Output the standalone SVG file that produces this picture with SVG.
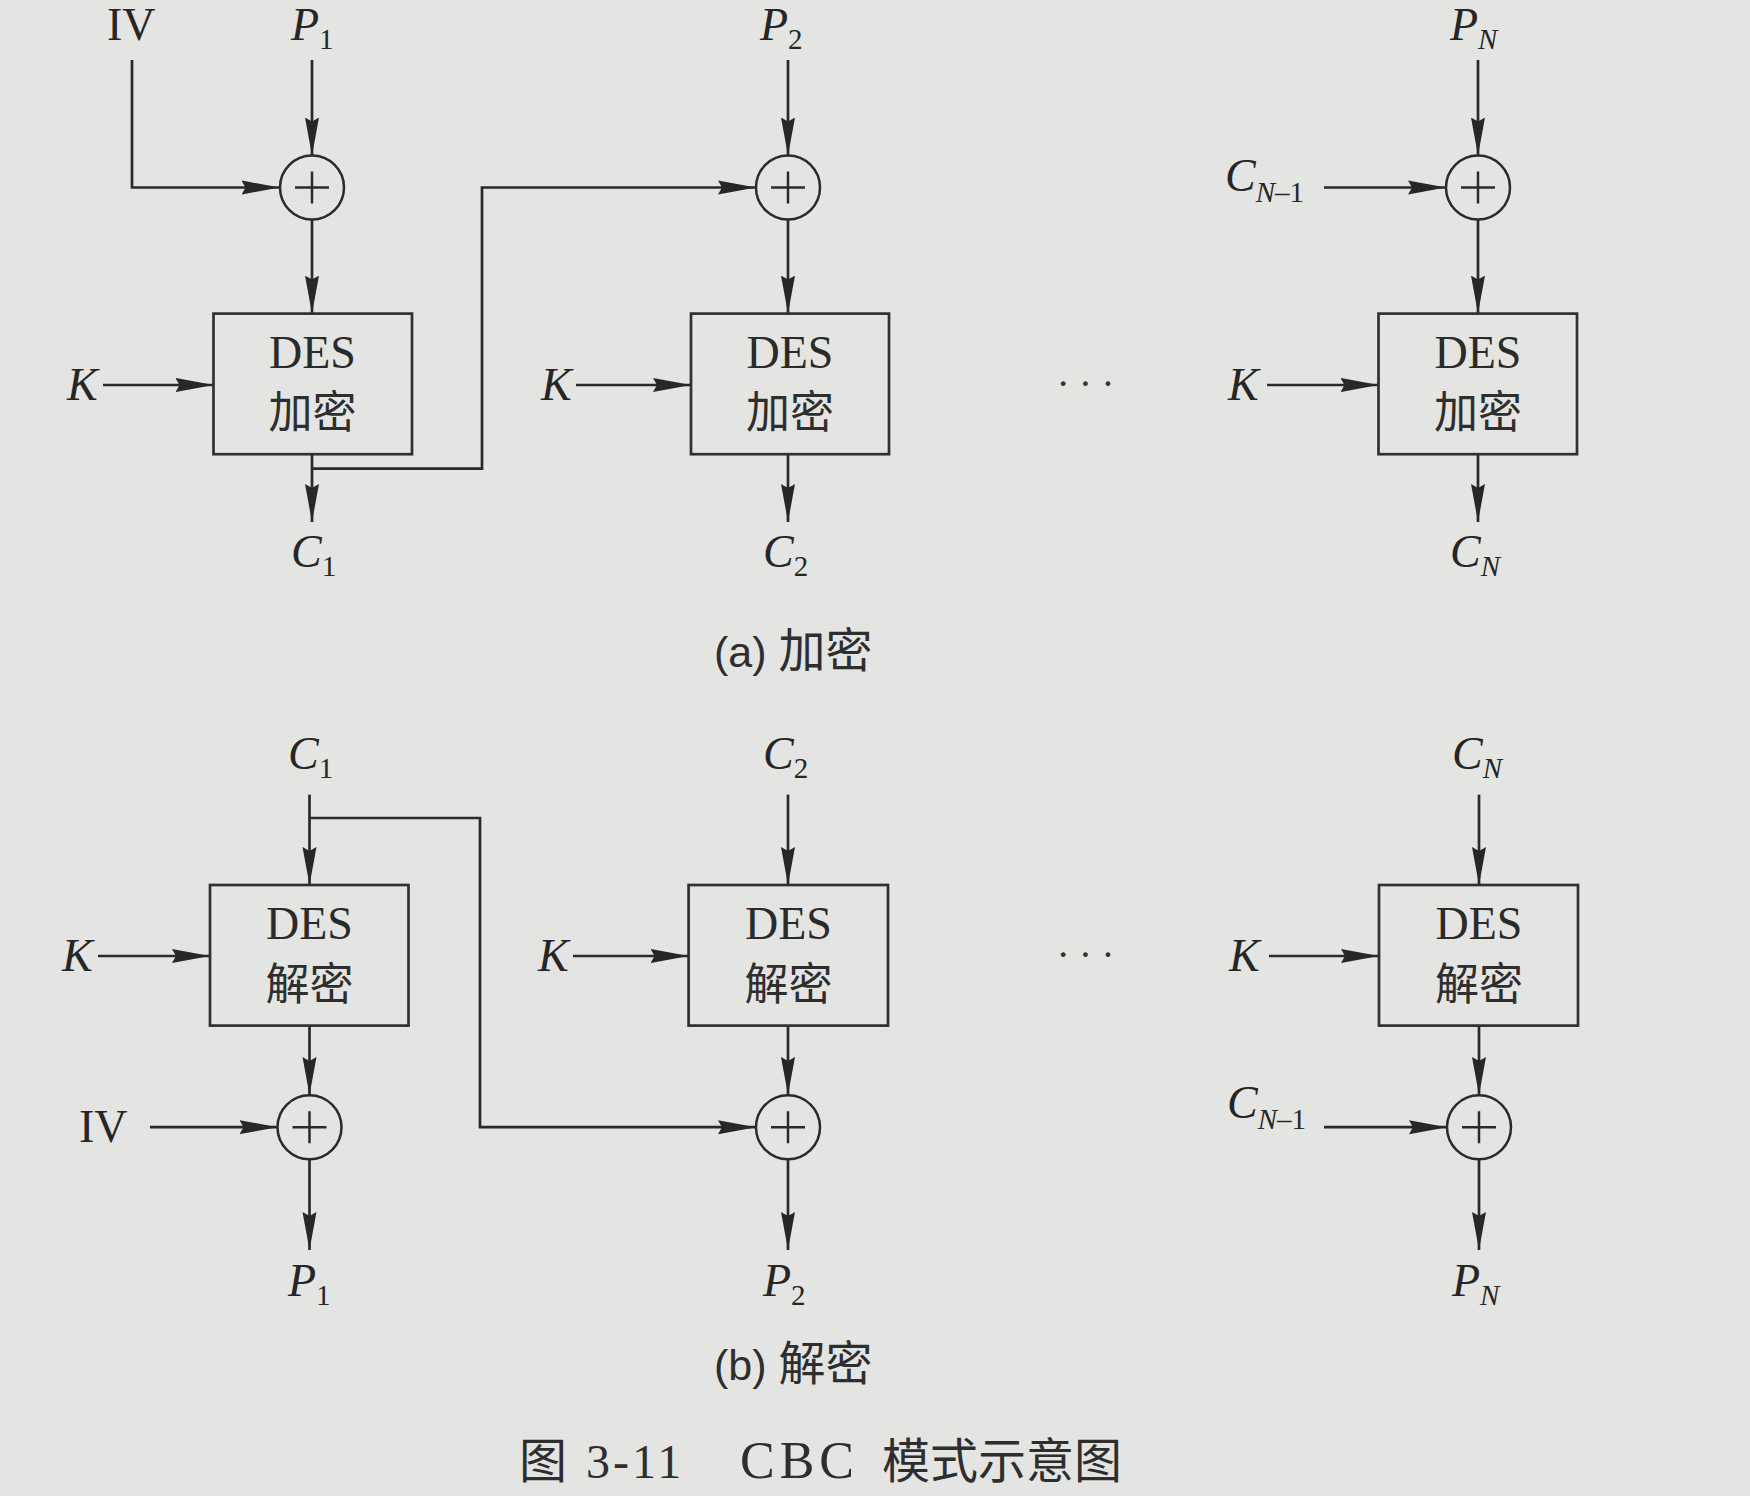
<svg xmlns="http://www.w3.org/2000/svg" width="1750" height="1496" viewBox="0 0 1750 1496">
<style>
.ar{fill:none;stroke:#2a2a2a;stroke-width:2.7;marker-end:url(#arr)}
.box{fill:none;stroke:#303030;stroke-width:2.7}
.xor{fill:none;stroke:#2a2a2a;stroke-width:2.5}
.lbl{font-family:"Liberation Serif","Times New Roman",serif;font-size:46px;fill:#262626}
.it{font-style:italic}
.sub{font-size:29px}
.des{font-family:"Liberation Serif","Times New Roman",serif;font-size:46px;fill:#2a2a2a;text-anchor:middle}
.cjk{font-family:"Noto Sans CJK SC","Noto Sans CJK JP",sans-serif;font-size:44px;fill:#2e2e2e;text-anchor:middle}
.cap{font-family:"Liberation Sans","Noto Sans CJK SC",sans-serif;font-size:43px;fill:#2e2e2e}
.capc{font-family:"Noto Sans CJK SC","Noto Sans CJK JP",sans-serif;font-size:47px}
.ttl{font-family:"Liberation Serif","Noto Sans CJK SC",serif;font-size:48px;fill:#2e2e2e}
.ttlc{font-family:"Noto Sans CJK SC","Noto Sans CJK JP",sans-serif}
.dots{font-family:"Liberation Serif",serif;font-size:40px;fill:#333;text-anchor:middle;letter-spacing:9px}
</style>
<defs>
<marker id="arr" markerUnits="userSpaceOnUse" markerWidth="40" markerHeight="16" refX="38" refY="8" orient="auto">
<path d="M0,1 L38,8 L0,15 L4,8 Z" fill="#272727"/>
</marker>
</defs>
<rect x="0" y="0" width="1750" height="1496" fill="#e4e4e2"/>

<g id="connectors">
<!-- encryption -->
<path class="ar" d="M132,60 V187.5 H279.5"/>
<path class="ar" d="M312,60 V155.5"/>
<path class="ar" d="M312,219.5 V313.6"/>
<path class="ar" d="M312,454.2 V522"/>
<path class="ar" d="M103,385 H213.5"/>
<path class="ar" d="M312,468.7 H482 V187.5 H756"/>
<path class="ar" d="M788,60 V155.5"/>
<path class="ar" d="M788,219.5 V313.6"/>
<path class="ar" d="M788,454.2 V522"/>
<path class="ar" d="M576,385 H691"/>
<path class="ar" d="M1478,60 V155.5"/>
<path class="ar" d="M1324,187.5 H1446"/>
<path class="ar" d="M1478,219.5 V313.6"/>
<path class="ar" d="M1478,454.2 V522"/>
<path class="ar" d="M1267,385 H1378.5"/>
<!-- decryption -->
<path class="ar" d="M309.5,794.6 V885"/>
<path class="ar" d="M309.5,818 H480 V1127.2 H756"/>
<path class="ar" d="M98,956 H210"/>
<path class="ar" d="M309.5,1025.6 V1095"/>
<path class="ar" d="M150,1127.2 H277.5"/>
<path class="ar" d="M309.5,1159.5 V1250"/>
<path class="ar" d="M788,794.6 V885"/>
<path class="ar" d="M573,956 H688.6"/>
<path class="ar" d="M788,1025.6 V1095"/>
<path class="ar" d="M788,1159.5 V1250"/>
<path class="ar" d="M1479,794.6 V885"/>
<path class="ar" d="M1269,956 H1379"/>
<path class="ar" d="M1479,1025.6 V1095"/>
<path class="ar" d="M1324,1127.2 H1447"/>
<path class="ar" d="M1479,1159.5 V1250"/>
</g>

<!-- Encryption nodes -->
<g id="enc-xor-1"><circle class="xor" cx="312" cy="187.5" r="32"/><path class="xor" d="M295,187.5 H329 M312,171.5 V203.5"/></g>
<g id="enc-xor-2"><circle class="xor" cx="788" cy="187.5" r="32"/><path class="xor" d="M771,187.5 H805 M788,171.5 V203.5"/></g>
<g id="enc-xor-N"><circle class="xor" cx="1478" cy="187.5" r="32"/><path class="xor" d="M1461,187.5 H1495 M1478,171.5 V203.5"/></g>

<g id="enc-des-1"><rect class="box" x="213.5" y="313.6" width="198.5" height="140.6"/><text class="des" x="312.5" y="368">DES</text><text class="cjk" x="312.5" y="428">加密</text></g>
<g id="enc-des-2"><rect class="box" x="691" y="313.6" width="198" height="140.6"/><text class="des" x="790" y="368">DES</text><text class="cjk" x="790" y="428">加密</text></g>
<g id="enc-des-N"><rect class="box" x="1378.5" y="313.6" width="198.5" height="140.6"/><text class="des" x="1478" y="368">DES</text><text class="cjk" x="1478" y="428">加密</text></g>

<g id="enc-labels">
<text class="lbl" x="107" y="40">IV</text>
<text class="lbl" x="291" y="40"><tspan class="it">P</tspan><tspan class="sub" dy="9">1</tspan></text>
<text class="lbl" x="760" y="40"><tspan class="it">P</tspan><tspan class="sub" dy="9">2</tspan></text>
<text class="lbl" x="1450" y="40"><tspan class="it">P</tspan><tspan class="sub it" dy="9">N</tspan></text>
<text class="lbl" x="1225" y="191"><tspan class="it">C</tspan><tspan class="sub" dy="11"><tspan class="it">N</tspan>–1</tspan></text>
<text class="lbl it" x="67" y="400">K</text>
<text class="lbl it" x="541" y="400">K</text>
<text class="lbl it" x="1228" y="400">K</text>
<text class="lbl" x="291" y="567"><tspan class="it">C</tspan><tspan class="sub" dy="9">1</tspan></text>
<text class="lbl" x="763" y="567"><tspan class="it">C</tspan><tspan class="sub" dy="9">2</tspan></text>
<text class="lbl" x="1450" y="567"><tspan class="it">C</tspan><tspan class="sub it" dy="9">N</tspan></text>
<text class="dots" x="1090" y="397">···</text>
<text class="cap" x="714" y="667">(a) <tspan class="capc">加密</tspan></text>
</g>

<!-- Decryption nodes -->
<g id="dec-des-1"><rect class="box" x="210" y="885" width="198.5" height="140.6"/><text class="des" x="309.5" y="939">DES</text><text class="cjk" x="309.5" y="1000">解密</text></g>
<g id="dec-des-2"><rect class="box" x="688.6" y="885" width="199.4" height="140.6"/><text class="des" x="788.5" y="939">DES</text><text class="cjk" x="788.5" y="1000">解密</text></g>
<g id="dec-des-N"><rect class="box" x="1379" y="885" width="199" height="140.6"/><text class="des" x="1479" y="939">DES</text><text class="cjk" x="1479" y="1000">解密</text></g>

<g id="dec-xor-1"><circle class="xor" cx="309.5" cy="1127.2" r="32"/><path class="xor" d="M292.5,1127.2 H326.5 M309.5,1111.2 V1143.2"/></g>
<g id="dec-xor-2"><circle class="xor" cx="788" cy="1127.2" r="32"/><path class="xor" d="M771,1127.2 H805 M788,1111.2 V1143.2"/></g>
<g id="dec-xor-N"><circle class="xor" cx="1479" cy="1127.2" r="32"/><path class="xor" d="M1462,1127.2 H1496 M1479,1111.2 V1143.2"/></g>

<g id="dec-labels">
<text class="lbl" x="288" y="769"><tspan class="it">C</tspan><tspan class="sub" dy="9">1</tspan></text>
<text class="lbl" x="763" y="769"><tspan class="it">C</tspan><tspan class="sub" dy="9">2</tspan></text>
<text class="lbl" x="1452" y="769"><tspan class="it">C</tspan><tspan class="sub it" dy="9">N</tspan></text>
<text class="lbl it" x="62" y="971">K</text>
<text class="lbl it" x="538" y="971">K</text>
<text class="lbl it" x="1229" y="971">K</text>
<text class="lbl" x="79" y="1142">IV</text>
<text class="lbl" x="1227" y="1118"><tspan class="it">C</tspan><tspan class="sub" dy="11"><tspan class="it">N</tspan>–1</tspan></text>
<text class="lbl" x="288" y="1296"><tspan class="it">P</tspan><tspan class="sub" dy="9">1</tspan></text>
<text class="lbl" x="763" y="1296"><tspan class="it">P</tspan><tspan class="sub" dy="9">2</tspan></text>
<text class="lbl" x="1452" y="1296"><tspan class="it">P</tspan><tspan class="sub it" dy="9">N</tspan></text>
<text class="dots" x="1090" y="968">···</text>
<text class="cap" x="714" y="1380">(b) <tspan class="capc">解密</tspan></text>
</g>

<g id="title">
<text class="ttl" x="519" y="1478"><tspan class="ttlc">图</tspan><tspan x="586" letter-spacing="3">3-11</tspan><tspan x="740" font-size="52" letter-spacing="5">CBC</tspan><tspan class="ttlc" x="882">模式示意图</tspan></text>
</g>
</svg>
